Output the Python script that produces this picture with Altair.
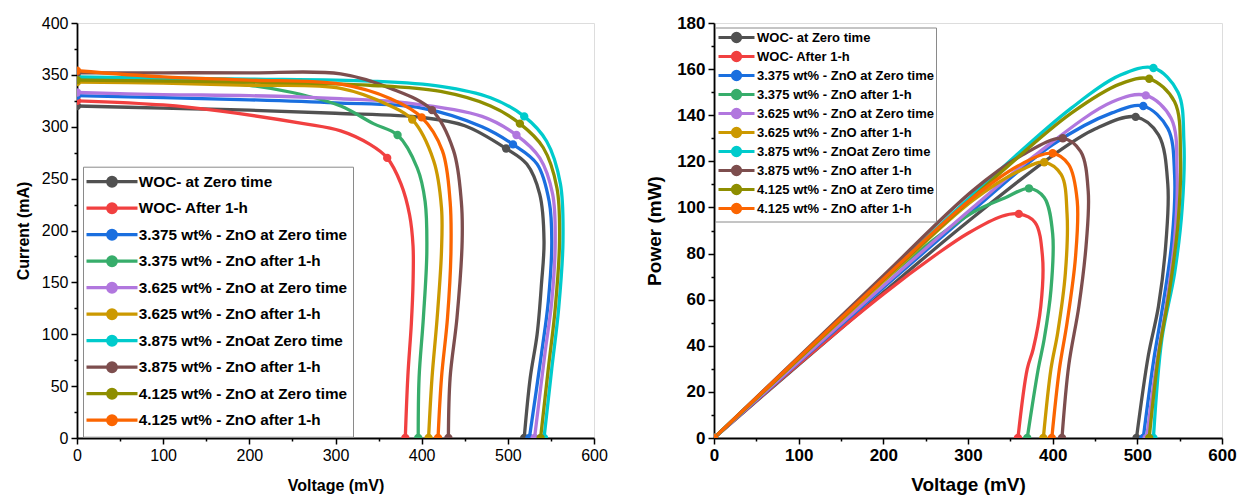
import math
import altair as alt
import pandas as pd

FONT = "Liberation Sans"

SERIES = [
    "WOC- at Zero time",
    "WOC- After 1-h",
    "3.375 wt% - ZnO at Zero time",
    "3.375 wt% - ZnO after 1-h",
    "3.625 wt% - ZnO at Zero time",
    "3.625 wt% - ZnO after 1-h",
    "3.875 wt% - ZnOat Zero time",
    "3.875 wt% - ZnO after 1-h",
    "4.125 wt% - ZnO at Zero time",
    "4.125 wt% - ZnO after 1-h",
]
COLORS = ["#515151", "#F14040", "#1A6FDF", "#37AD6B", "#B177DE",
          "#CC9900", "#00CBCC", "#7D4E4E", "#8E8E00", "#FB6501"]

# ---- I-V curves (voltage mV, current mA), one list per series ----
IV_VOLTAGE = [
    [0, 100, 200, 300, 400, 450, 498, 522, 537, 542, 539, 534, 526, 519],
    [0, 100, 167, 263, 306, 340, 360, 376, 386, 390, 390, 388, 384, 381],
    [0, 100, 200, 300, 400, 470, 506, 534, 548, 551, 547, 539, 525],
    [0, 100, 200, 250, 306, 344, 372, 395, 404, 406, 402, 397, 396],
    [0, 100, 200, 306, 383, 470, 510, 537, 552, 555, 551, 543, 531],
    [0, 100, 200, 306, 364, 389, 414, 423, 423, 418, 412, 408],
    [0, 100, 200, 340, 422, 480, 519, 545, 561, 564, 559, 551, 542],
    [0, 100, 200, 306, 364, 412, 437, 446, 447, 441, 433, 431],
    [0, 100, 200, 340, 422, 480, 514, 541, 557, 560, 555, 547, 538],
    [0, 100, 200, 306, 364, 400, 424, 433, 434, 430, 423, 419],
]
IV_CURRENT = [
    [320, 318, 316, 313, 309, 301, 279, 264, 235, 190, 148, 100, 58, 0],
    [325, 321, 315, 303, 296, 283, 270, 245, 215, 185, 150, 110, 60, 0],
    [330, 328, 326, 323, 318, 300, 283, 264, 228, 190, 132, 81, 0],
    [347, 345, 340, 333, 320, 303, 292, 260, 228, 180, 116, 58, 0],
    [333, 331, 330, 327, 323, 310, 292, 270, 235, 190, 132, 81, 0],
    [343, 342, 340, 337, 320, 307, 267, 222, 180, 116, 58, 0],
    [348, 347, 346, 344, 339, 328, 310, 286, 245, 190, 125, 67, 0],
    [352, 352, 352, 351, 337, 316, 277, 228, 190, 116, 58, 0],
    [345, 344, 343, 340, 334, 320, 303, 280, 241, 190, 125, 67, 0],
    [354, 348, 345, 341, 327, 309, 277, 228, 180, 116, 58, 0],
]
IV_MPP_INDEX = [6, 6, 6, 6, 6, 5, 6, 5, 6, 5]

# ---- P-V curves (voltage mV, power mW), one list per series ----
PV_VOLTAGE = [
    [0, 100, 200, 300, 400, 450, 498, 525, 536, 534, 525, 513, 499],
    [0, 100, 200, 263, 300, 340, 360, 379, 388, 386, 377, 370, 359],
    [0, 100, 200, 300, 400, 470, 507, 536, 544, 541, 530, 519, 507],
    [0, 100, 200, 250, 306, 344, 372, 390, 400, 398, 390, 383, 370],
    [0, 100, 200, 306, 383, 470, 510, 540, 547, 544, 534, 523, 511],
    [0, 100, 200, 306, 364, 390, 410, 417, 415, 406, 398, 389],
    [0, 100, 200, 340, 422, 480, 519, 548, 555, 553, 544, 529, 519],
    [0, 100, 200, 306, 364, 412, 433, 442, 440, 431, 419, 411],
    [0, 100, 200, 340, 422, 480, 514, 544, 551, 548, 538, 525, 514],
    [0, 100, 200, 306, 364, 400, 419, 429, 427, 417, 408, 399],
]
PV_POWER = [
    [0, 31.8, 63.2, 93.9, 122.5, 134, 139.3, 131.5, 110, 85.8, 57.2, 35.8, 0],
    [0, 32.1, 62.4, 79.7, 88.8, 96.2, 97.2, 93.6, 78.6, 57.2, 38.6, 30, 0],
    [0, 32.8, 65.2, 96.9, 127.2, 141, 144, 134.3, 114.3, 85.8, 57.2, 33, 0],
    [0, 34.5, 68, 83.3, 97.9, 104.2, 108.3, 104.3, 88.6, 64.3, 42.9, 30, 0],
    [0, 33.1, 66, 100.1, 123.7, 145.7, 148.6, 138.6, 114.3, 85.8, 57.2, 33, 0],
    [0, 34.2, 68, 103.1, 116.5, 119.6, 114.3, 97.2, 71.5, 45.8, 30, 0],
    [0, 34.7, 69.2, 117, 143.1, 157.4, 160.5, 150, 128.6, 100, 71.5, 43, 0],
    [0, 35.2, 70.4, 107.4, 122.7, 130, 124.3, 107, 85.8, 57.2, 31.5, 0],
    [0, 34.4, 68.6, 115.6, 140.9, 153.6, 155.8, 145.8, 121.5, 93, 64, 35.8, 0],
    [0, 34.8, 69, 104.3, 119, 123.5, 118.6, 102.9, 78.6, 50, 30, 0],
]
PV_MPP_INDEX = [6, 6, 6, 6, 6, 5, 6, 5, 6, 5]


def build(volts, ys, mpp):
    rows = []
    for s, name in enumerate(SERIES):
        n = len(volts[s])
        for i, (v, y) in enumerate(zip(volts[s], ys[s])):
            rows.append({"series": name, "idx": i, "v": v, "y": y,
                         "marker": bool(i == 0 or i == n - 1 or i == mpp[s])})
    return pd.DataFrame(rows)


df_iv = build(IV_VOLTAGE, IV_CURRENT, IV_MPP_INDEX)
df_pv = build(PV_VOLTAGE, PV_POWER, PV_MPP_INDEX)


def tick_cond(step, major, minor):
    return {"condition": {"test": f"datum.value % {step} === 0", "value": major}, "value": minor}


def make_axis(title, values, step, weight, lsize, tsize, tpad):
    return alt.Axis(
        title=title, values=values, grid=False,
        labelExpr=f"datum.value % {step} === 0 ? datum.label : ''",
        labelOverlap=False, labelFlush=False,
        tickSize=tick_cond(step, 6, 3), tickWidth=1.5, tickColor="black",
        domainColor="black", domainWidth=1.8,
        labelFont=FONT, labelFontSize=lsize, labelFontWeight=weight, labelColor="black",
        labelPadding=3,
        titleFont=FONT, titleFontSize=tsize, titleFontWeight="bold", titleColor="black",
        titlePadding=tpad,
    )


def legend_path(half, r, n=16):
    # horizontal line with a (polygonal) dot in the middle, unit coordinates
    pts = [(r * math.cos(2 * math.pi * k / n), r * math.sin(2 * math.pi * k / n)) for k in range(n)]
    dot = "M" + "L".join(f"{x:.3f},{y:.3f}" for x, y in pts) + "Z"
    return f"M{-half:.3f},0H{half:.3f}" + dot


def make_legend(x, y, fsize, unit, half_px, r_px, pad, sym_off, lab_off, row_pad):
    return alt.Legend(
        title=None, orient="none", legendX=x, legendY=y, direction="vertical",
        symbolType=legend_path(half_px / (unit / 2), r_px / (unit / 2)),
        symbolSize=unit * unit, symbolStrokeWidth=3.2, symbolOpacity=1,
        symbolOffset=sym_off, labelOffset=lab_off, rowPadding=row_pad, padding=pad,
        labelFont=FONT, labelFontSize=fsize, labelFontWeight="bold", labelColor="black",
        labelLimit=400, strokeColor="#8a8a8a", fillColor="white",
    )


def panel(df, xaxis, yaxis, ydom, legend, width, height):
    sc = alt.Scale(domain=SERIES, range=COLORS)
    x = alt.X("v:Q", scale=alt.Scale(domain=[0, 600], nice=False, zero=False), axis=xaxis)
    y = alt.Y("y:Q", scale=alt.Scale(domain=ydom, nice=False), axis=yaxis)
    base = alt.Chart(df)
    lines = base.mark_line(strokeWidth=3.3, interpolate="catmull-rom", clip=True).encode(
        x=x, y=y,
        stroke=alt.Stroke("series:N", scale=sc, legend=legend),
        order=alt.Order("idx:Q"),
    )
    pts = base.transform_filter("datum.marker").mark_point(
        filled=True, size=70, opacity=1, clip=True).encode(
        x=x, y=y,
        fill=alt.Fill("series:N", scale=sc, legend=legend),
    )
    return alt.layer(lines, pts).properties(width=width, height=height)


left = panel(
    df_iv,
    make_axis("Voltage (mV)", list(range(0, 601, 50)), 100, "normal", 16, 16, 14),
    make_axis("Current (mA)", list(range(0, 401, 25)), 50, "normal", 16, 16, 10),
    [0, 400],
    make_legend(6, 143.7, 15.3, 16, 25.5, 4.3, 5, 14, 16.8, 4.5),
    517, 415,
)
right = panel(
    df_pv,
    make_axis("Voltage (mV)", list(range(0, 601, 50)), 100, "bold", 17, 19, 12),
    make_axis("Power (mW)", list(range(0, 181, 10)), 20, "bold", 17, 19, 12),
    [0, 180],
    make_legend(1, 4.5, 13, 12, 18, 4, 2, 11.5, 12.5, -4),
    508, 415,
)

chart = alt.hconcat(left, right, spacing=37).resolve_scale(
    stroke="independent", fill="independent"
).resolve_legend(stroke="independent", fill="independent").properties(
    padding={"left": 6, "top": 5, "right": 0, "bottom": 0}
).configure_view(stroke="black", strokeWidth=1.8).configure(background="white")

chart.save("out.html", embed_options={"renderer": "svg", "actions": False})
